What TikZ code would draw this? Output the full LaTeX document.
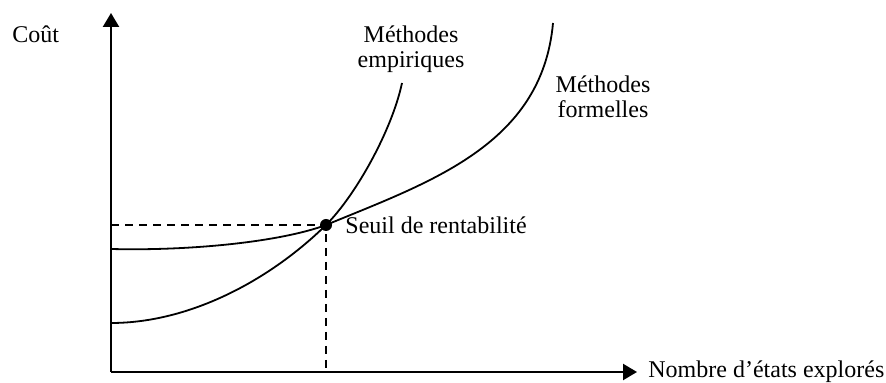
\documentclass[tikz,border=0pt]{standalone}
\usepackage{fontspec}
\setmainfont{Liberation Serif}
\usetikzlibrary{arrows.meta}

\begin{document}
\begin{tikzpicture}[x=0.5pt,y=-0.5pt,font=\fontsize{12}{12.5}\selectfont,
  axe/.style={line width=1.1pt,-{Triangle[length=7pt,width=8pt]}},
  courbe/.style={line width=0.9pt},
  seuil/.style={line width=0.8pt,dash pattern=on 4pt off 3pt},
  legende/.style={inner sep=0pt,align=center}]
\useasboundingbox (0,0) rectangle (886,383);
% axes
\coordinate (O) at (111,372);
\coordinate (ytop) at (111,13);
\coordinate (xend) at (637,372);
\coordinate (S) at (326,225);
\draw[axe] (O) -- (ytop);
\draw[axe] (O) -- (xend);
% seuil
\draw[seuil] (O |- S) -- (S) -- (S |- O);
% courbes
\draw[courbe] (111,323) .. controls (190,323) and (270,280) .. (S)
  .. controls (356,195) and (392,130) .. (402,83);
\draw[courbe] (111,249) .. controls (190,251) and (280,242) .. (S)
  .. controls (430,182) and (542,145) .. (553,23);
\fill (S) circle (3pt);
% textes
\node[inner sep=0pt,anchor=base west] (cout) at (12,43) {Coût};
\node[legende,anchor=base] (empir) at (411,68) {Méthodes\\empiriques};
\node[legende,anchor=base] (formel) at (603,118) {Méthodes\\formelles};
\node[inner sep=0pt,anchor=base west] (rentab) at (345,234) {Seuil de rentabilité};
\node[inner sep=0pt,anchor=base west] (etats) at (648,378) {Nombre d’états explorés};
\end{tikzpicture}
\end{document}
